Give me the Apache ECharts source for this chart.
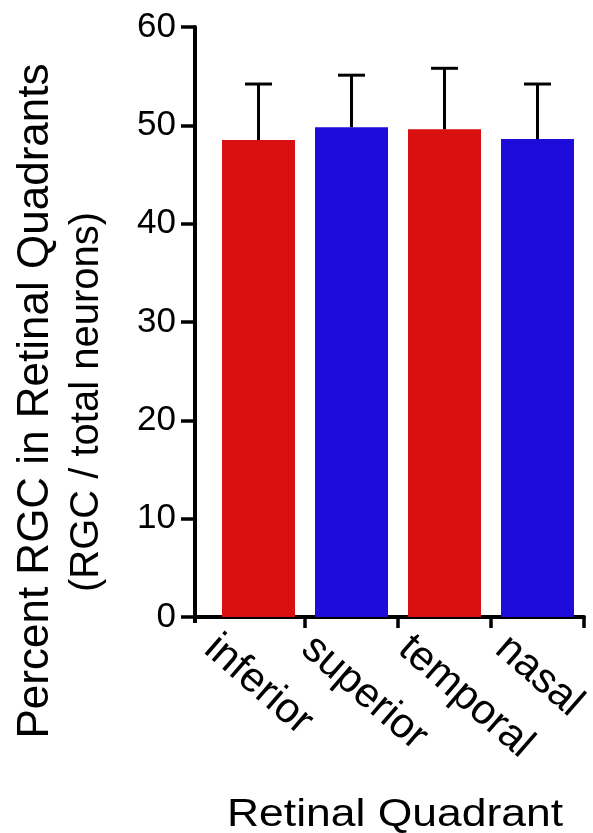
<!DOCTYPE html>
<html>
<head>
<meta charset="utf-8">
<script src="https://cdn.jsdelivr.net/npm/echarts@6/dist/echarts.min.js"></script>
<style>html,body{margin:0;padding:0;background:#fff}#c{width:593px;height:833px}</style>
</head>
<body>
<div id="c"></div>
<script>
// ---- data ----
const categories = ['inferior', 'superior', 'temporal', 'nasal'];
const means = [48.5, 49.8, 49.6, 48.6];
const errors = [5.7, 5.3, 6.2, 5.6];
const barColors = ['#DA1010', '#1E0CDA', '#DA1010', '#1E0CDA'];
const yTicks = { min: 0, max: 60, interval: 10 };
const yTitle1 = 'Percent RGC in Retinal Quadrants';
const yTitle2 = '(RGC / total neurons)';
const xTitle = 'Retinal Quadrant';

const FONT = 'Liberation Sans, Arial, sans-serif';
const chart = echarts.init(document.getElementById('c'), null, { renderer: 'canvas' });

const option = {
  animation: false,
  backgroundColor: '#ffffff',
  grid: [
    { left: 212, right: 9, top: 27, bottom: 216 },
    { left: 210, right: 83, top: 27, bottom: 216 }
  ],
  xAxis: [
    {
      type: 'category', gridIndex: 0, data: categories,
      axisLine: { show: true, lineStyle: { color: '#000', width: 4 } },
      axisTick: { show: true, length: 11, interval: function (i) { return i !== 0; }, lineStyle: { color: '#000', width: 3.5 } },
      axisLabel: { show: false }
    },
    {
      type: 'value', gridIndex: 1, min: 0, max: categories.length - 1, interval: 1,
      axisLine: { show: false }, axisTick: { show: false }, splitLine: { show: false },
      axisLabel: {
        rotate: -41, margin: 26, fontSize: 42, color: '#000', fontFamily: FONT,
        formatter: function (v) { return categories[v] || ''; }
      }
    }
  ],
  yAxis: [
    {
      type: 'value', gridIndex: 0, min: yTicks.min, max: yTicks.max, interval: yTicks.interval,
      offset: 17,
      axisLine: { show: true, lineStyle: { color: '#000', width: 4 } },
      axisTick: { show: true, length: 14, lineStyle: { color: '#000', width: 3.5 } },
      splitLine: { show: false },
      axisLabel: { fontSize: 35, color: '#000', margin: 19, fontFamily: FONT }
    },
    { type: 'value', gridIndex: 1, show: false, min: 0, max: 60 }
  ],
  series: [
    {
      type: 'bar', xAxisIndex: 0, yAxisIndex: 0, barWidth: 73,
      data: means.map(function (v, i) { return { value: v, itemStyle: { color: barColors[i] } }; })
    },
    {
      type: 'custom', xAxisIndex: 0, yAxisIndex: 0, z: 5,
      data: means.map(function (v, i) { return [i, v, errors[i]]; }),
      renderItem: function (params, api) {
        const base = api.coord([api.value(0), api.value(1)]);
        const top = api.coord([api.value(0), api.value(1) + api.value(2)]);
        const half = 13.5;
        const st = { stroke: '#000', lineWidth: 3 };
        return {
          type: 'group',
          children: [
            { type: 'line', shape: { x1: base[0], y1: base[1], x2: top[0], y2: top[1] }, style: st },
            { type: 'line', shape: { x1: top[0] - half, y1: top[1], x2: top[0] + half, y2: top[1] }, style: st }
          ]
        };
      }
    }
  ],
  graphic: [
    { type: 'line', shape: { x1: 195, y1: 617, x2: 213, y2: 617 }, style: { stroke: '#000', lineWidth: 4 } },
    { type: 'line', shape: { x1: 195, y1: 617, x2: 195, y2: 623 }, style: { stroke: '#000', lineWidth: 4 } },
    {
      type: 'text', x: 36, y: 401, rotation: Math.PI / 2,
      style: { text: yTitle1, fontSize: 44, fontFamily: FONT, fill: '#000', align: 'center', verticalAlign: 'middle', textAlign: 'center', textVerticalAlign: 'middle' }
    },
    {
      type: 'text', x: 87, y: 402, rotation: Math.PI / 2,
      style: { text: yTitle2, fontSize: 40, fontFamily: FONT, fill: '#000', align: 'center', verticalAlign: 'middle', textAlign: 'center', textVerticalAlign: 'middle' }
    },
    {
      type: 'text', x: 395, y: 816, scaleX: 1.17,
      style: { text: xTitle, fontSize: 38, fontFamily: FONT, fill: '#000', align: 'center', verticalAlign: 'middle', textAlign: 'center', textVerticalAlign: 'middle' }
    }
  ]
};
chart.setOption(option);
</script>
</body>
</html>
